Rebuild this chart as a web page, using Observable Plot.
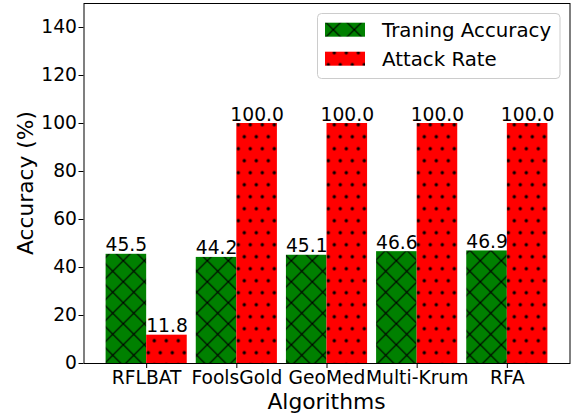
<!DOCTYPE html>
<html><head><meta charset="utf-8">
<script src="https://cdn.jsdelivr.net/npm/d3@7"></script>
<script src="https://cdn.jsdelivr.net/npm/@observablehq/plot@0.6"></script>
<style>body{margin:0;background:#fff;} svg{display:block;} svg text{font-family:"DejaVu Sans",sans-serif;}</style>
</head><body><div id="chart"></div>
<script>
const algorithms = ["RFLBAT", "FoolsGold", "GeoMed", "Multi-Krum", "RFA"];
const trainingAccuracy = [45.5, 44.2, 45.1, 46.6, 46.9];
const attackRate = [11.8, 100.0, 100.0, 100.0, 100.0];
const yTicks = [0, 20, 40, 60, 80, 100, 120, 140];
const seriesNames = ["Traning Accuracy", "Attack Rate"];
const xLabel = "Algorithms";
const yLabel = "Accuracy (%)";

const W = 0.45;
const TS = 18.7;
const train = algorithms.map((a, i) => ({i, algo: a, value: trainingAccuracy[i]}));
const attack = algorithms.map((a, i) => ({i, algo: a, value: attackRate[i]}));
const FONT = "'DejaVu Sans', sans-serif";

const svg = Plot.plot({
  width: 572, height: 416,
  marginLeft: 83.5, marginRight: 2.5, marginTop: 3, marginBottom: 53,
  style: {fontFamily: FONT, fontSize: TS + "px", background: "white", color: "black"},
  x: {type: "linear", domain: [-0.695, 4.695], ticks: algorithms.map((_, i) => i),
      tickFormat: i => algorithms[i], tickSize: 5, tickPadding: 2, label: null},
  y: {domain: [0, 150], ticks: yTicks, tickSize: 5, tickPadding: 2, label: null},
  marks: [
    Plot.rect(train, {x1: d => d.i - W, x2: d => d.i, y1: 0, y2: "value", fill: "url(#hatchX)"}),
    Plot.rect(attack, {x1: d => d.i, x2: d => d.i + W, y1: 0, y2: "value", fill: "url(#hatchDots)"}),
    Plot.text(train, {x: d => d.i - W / 2, y: "value", text: d => d.value.toFixed(1), lineAnchor: "bottom", dy: -3, fontSize: TS, fontFamily: FONT, fill: "black"}),
    Plot.text(attack, {x: d => d.i + W / 2, y: "value", text: d => d.value.toFixed(1), lineAnchor: "bottom", dy: -3, fontSize: TS, fontFamily: FONT, fill: "black"}),
    Plot.frame({stroke: "black", strokeWidth: 1})
  ]
});
document.getElementById("chart").appendChild(svg);

const s = d3.select(svg);
s.attr("font-family", FONT).style("font-family", FONT);
s.selectAll("text").attr("font-family", FONT).style("font-family", FONT).attr("font-size", TS).style("font-size", TS + "px");
const defs = s.insert("defs", ":first-child");
// cross hatch
const P = 21;
const px = defs.append("pattern").attr("id", "hatchX").attr("patternUnits", "userSpaceOnUse")
  .attr("width", P).attr("height", P).attr("x", 333.3 % P).attr("y", 29.7 % P);
px.append("rect").attr("width", P).attr("height", P).attr("fill", "green");
let dpath = "";
for (let k = -1; k <= 1; k++) dpath += `M-2,${-2 + k * P}L${P + 2},${P + 2 + k * P}`;
for (let k = 0; k <= 2; k++) dpath += `M-2,${2 + k * P}L${P + 2},${-P - 2 + k * P}`;
px.append("path").attr("d", dpath).attr("stroke", "black").attr("stroke-width", 1.2).attr("fill", "none");
// dots
const pd = defs.append("pattern").attr("id", "hatchDots").attr("patternUnits", "userSpaceOnUse")
  .attr("width", 12).attr("height", 24).attr("x", 1.3).attr("y", -1.3);
pd.append("rect").attr("width", 12).attr("height", 24).attr("fill", "red");
pd.append("circle").attr("cx", 9).attr("cy", 6).attr("r", 1.7).attr("fill", "black");
pd.append("circle").attr("cx", 3).attr("cy", 18).attr("r", 1.7).attr("fill", "black");

// axis labels
s.append("text").attr("x", 326.5).attr("y", 409).attr("text-anchor", "middle")
  .attr("font-family", FONT).attr("font-size", 21.8).attr("fill", "black").text(xLabel);
s.append("text").attr("transform", "translate(33,183) rotate(-90)").attr("text-anchor", "middle")
  .attr("font-family", FONT).attr("font-size", 21.8).attr("fill", "black").text(yLabel);

// legend
const lg = s.append("g");
lg.append("rect").attr("x", 317.5).attr("y", 13.5).attr("width", 242.5).attr("height", 65)
  .attr("rx", 4).attr("fill", "white").attr("fill-opacity", 0.8).attr("stroke", "#cccccc");
const fillsL = ["url(#hatchX)", "url(#hatchDots)"];
seriesNames.forEach((n, k) => {
  const y0 = 22.7 + k * 29;
  lg.append("rect").attr("x", 325).attr("y", y0).attr("width", 40).attr("height", 14).attr("fill", fillsL[k]);
  lg.append("text").attr("x", 382).attr("y", y0 + 14).attr("text-anchor", "start")
    .attr("font-family", FONT).attr("font-size", 19.8).attr("fill", "black").text(n);
});
</script></body></html>
